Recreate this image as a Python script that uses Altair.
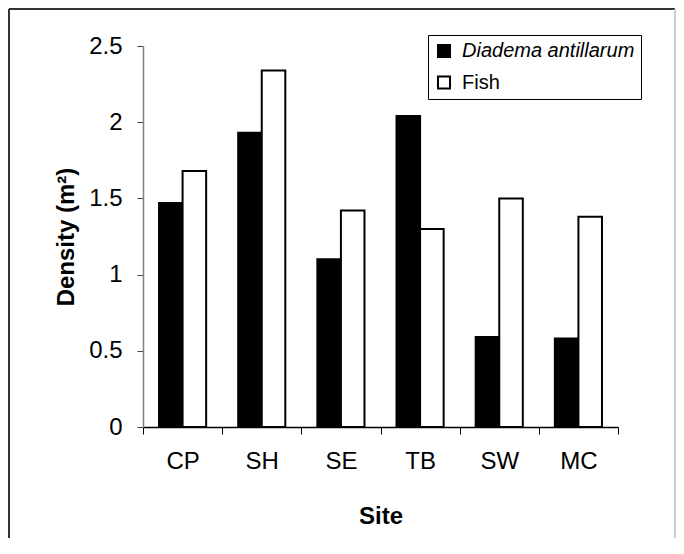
import altair as alt
import pandas as pd

sites = ["CP", "SH", "SE", "TB", "SW", "MC"]
series = ["Diadema antillarum", "Fish"]
diadema = [1.47, 1.93, 1.10, 2.04, 0.59, 0.58]
fish = [1.68, 2.34, 1.42, 1.30, 1.50, 1.38]
y_ticks = [0, 0.5, 1, 1.5, 2, 2.5]

rows = []
for s, d, f in zip(sites, diadema, fish):
    rows.append({"site": s, "series": series[0], "value": d})
    rows.append({"site": s, "series": series[1], "value": f})
df = pd.DataFrame(rows)

FONT = "Liberation Sans"
W, H = 475, 381

bars = alt.Chart(df).mark_bar(stroke="black", strokeWidth=2).encode(
    x=alt.X(
        "site:N",
        sort=sites,
        scale=alt.Scale(paddingInner=0, paddingOuter=0),
        axis=alt.Axis(
            title="Site",
            labelAngle=0,
            labelFont=FONT,
            labelFontSize=24,
            labelColor="black",
            labelPadding=15,
            tickBand="extent",
            tickSize=7,
            tickColor="black",
            domainColor="black",
            domainWidth=1.5,
            titleFont=FONT,
            titleFontSize=24,
            titleFontWeight="bold",
            titleColor="black",
            titleBaseline="alphabetic",
            titleX=W / 2,
            titleY=96,
        ),
    ),
    xOffset=alt.XOffset(
        "series:N",
        sort=series,
        scale=alt.Scale(domain=series, paddingOuter=0.68, paddingInner=0),
    ),
    y=alt.Y(
        "value:Q",
        scale=alt.Scale(domain=[0, 2.5], nice=False),
        axis=alt.Axis(
            title="Density (m²)",
            values=y_ticks,
            format="~g",
            grid=False,
            labelFont=FONT,
            labelFontSize=24,
            labelColor="black",
            labelPadding=15,
            tickSize=6,
            tickColor="#404040",
            domainColor="#808080",
            domainWidth=1.5,
            titleFont=FONT,
            titleFontSize=24,
            titleFontWeight="bold",
            titleColor="black",
            titleAngle=270,
            titleBaseline="alphabetic",
            titleAlign="center",
            titleX=-70,
            titleY=H / 2,
        ),
    ),
    fill=alt.Fill(
        "series:N",
        sort=series,
        scale=alt.Scale(domain=series, range=["black", "white"]),
        legend=alt.Legend(
            title=None,
            orient="none",
            legendX=285,
            legendY=-11,
            padding=6,
            strokeColor="black",
            fillColor="white",
            symbolType="square",
            symbolSize=144,
            symbolStrokeColor="black",
            symbolStrokeWidth=2,
            symbolOpacity=1,
            labelFont=FONT,
            labelFontSize=20,
            labelColor="black",
            labelOffset=8,
            labelLimit=400,
            rowPadding=11.5,
            labelFontStyle={"expr": "datum.label == 'Fish' ? 'normal' : 'italic'"},
        ),
    ),
)

frame_left = alt.Chart(df).mark_rule(color="#333333", strokeWidth=2).encode(
    x=alt.value(-134), y=alt.value(-37), y2=alt.value(530 - 38)
)
frame_top = alt.Chart(df).mark_rule(color="#333333", strokeWidth=2).encode(
    x=alt.value(-134), x2=alt.value(532), y=alt.value(-37)
)
frame_right = alt.Chart(df).mark_rule(color="#cccccc", strokeWidth=1.5).encode(
    x=alt.value(532), y=alt.value(-37), y2=alt.value(530 - 38)
)

chart = (
    alt.layer(frame_left, frame_top, frame_right, bars)
    .properties(
        width=W,
        height=H,
        padding={"left": 135, "top": 38, "right": 58, "bottom": 111},
        autosize=alt.AutoSizeParams(type="none"),
        background="white",
    )
    .configure_view(stroke=None)
)

chart.save("out.html", embed_options={"renderer": "svg", "actions": False})
